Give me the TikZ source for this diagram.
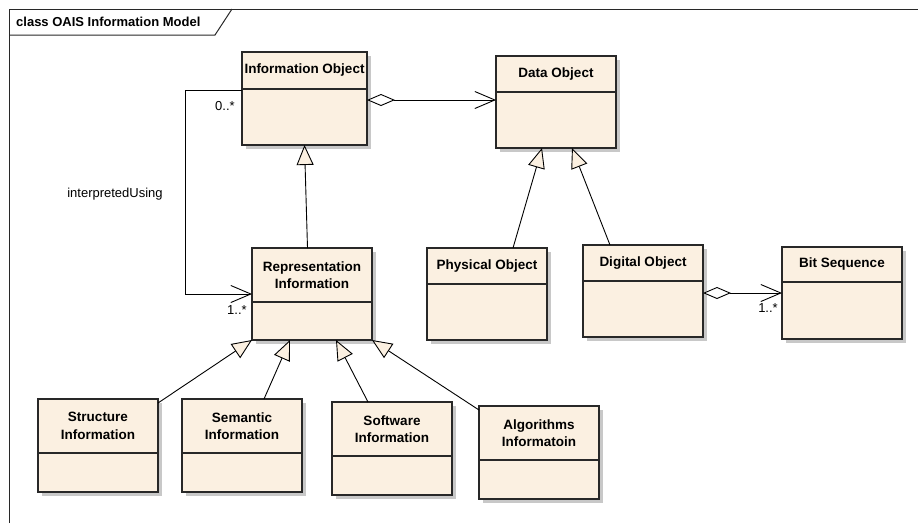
\documentclass[tikz,border=0pt]{standalone}
\usepackage{fontspec}
\setmainfont{Liberation Sans}
\usetikzlibrary{arrows.meta, positioning, calc, shadows}
\definecolor{classfill}{RGB}{251, 240, 225}
\definecolor{shadowgray}{RGB}{200, 200, 200}
\definecolor{edgegray}{RGB}{40, 40, 40}

\begin{document}
\begin{tikzpicture}[x=1pt, y=-1pt,
    head/.style={rectangle, draw=edgegray, fill=classfill, line width=1.1pt, minimum width=120pt, inner sep=0pt, outer sep=0pt, align=center, font=\bfseries\fontsize{13.5}{17.5}\selectfont, drop shadow={shadow xshift=4pt, shadow yshift=-4pt, fill=shadowgray, opacity=1}},
    body/.style={head, minimum height=56pt},
    lbl/.style={font=\fontsize{13}{15}\selectfont, inner sep=0pt},
    gen/.style={line width=0.9pt, -{Triangle[length=20pt, width=17pt, fill=classfill]}},
    assoc/.style={line width=0.9pt, -{Straight Barb[length=20pt, width=17pt]}},
    aggr/.style={line width=0.9pt, {Diamond[length=28pt, width=12pt, fill=white]}-{Straight Barb[length=20pt, width=17pt]}}
]
    \useasboundingbox (0,0) rectangle (918,523);
    % frame
    \draw[edgegray, line width=1pt] (9,523) -- (9,9) -- (918,9);
    \draw[edgegray, line width=1pt] (9,35) -- (215,35) -- (232,9);
    \node[lbl, font=\bfseries\fontsize{13}{15}\selectfont, anchor=west] (title) at (16,22) {class OAIS Information Model};

    % classes
    \node[head, minimum width=125pt, minimum height=37pt] (io) at (304.5,70.5) {Information Object};
    \node[body, minimum width=125pt, below=0pt of io] (iob) {};
    \node[head, minimum height=36pt] (do) at (556,74) {Data Object};
    \node[body, below=0pt of do] (dob) {};
    \node[head, minimum height=54pt] (ri) at (312,275) {Representation\\Information};
    \node[body, minimum height=38pt, below=0pt of ri] (rib) {};
    \node[head, minimum height=36pt] (po) at (487,266) {Physical Object};
    \node[body, below=0pt of po] (pob) {};
    \node[head, minimum height=36pt] (dg) at (643,263) {Digital Object};
    \node[body, below=0pt of dg] (dgb) {};
    \node[head, minimum height=35pt] (bs) at (842,264.5) {Bit Sequence};
    \node[body, minimum height=57pt, below=0pt of bs] (bsb) {};
    \node[head, minimum height=54pt] (st) at (98,426) {Structure\\Information};
    \node[body, minimum height=39pt, below=0pt of st] (stb) {};
    \node[head, minimum height=54pt] (se) at (242,426) {Semantic\\Information};
    \node[body, minimum height=39pt, below=0pt of se] (seb) {};
    \node[head, minimum height=54pt] (sw) at (392,429) {Software\\Information};
    \node[body, minimum height=39pt, below=0pt of sw] (swb) {};
    \node[head, minimum height=54pt] (al) at (539,433) {Algorithms\\Informatoin};
    \node[body, minimum height=39pt, below=0pt of al] (alb) {};

    % connectors
    \draw[assoc] ($(iob.north west)+(0,1)$) -- ++(-57,0) |- ($(ri.south west)+(0,-8)$);
    \draw[aggr] ($(iob.north east)+(0,11)$) -- ($(dob.north west)+(0,8)$);
    \draw[aggr] ($(dgb.north east)+(0,12)$) -- ($(bsb.north west)+(0,11)$);
    \draw[gen] ($(ri.north)+(-4.5,0)$) -- (iob.south);
    \draw[gen] ($(po.north)+(26,0)$) -- ($(dob.south)+(-14,0)$);
    \draw[gen] ($(dg.north)+(-33,0)$) -- ($(dob.south)+(16,0)$);
    \draw[gen] ($(st.north east)+(0,4)$) -- (rib.south west);
    \draw[gen] ($(se.north)+(22,0)$) -- ($(rib.south)+(-22,0)$);
    \draw[gen] ($(sw.north)+(-24,0)$) -- ($(rib.south)+(24,0)$);
    \draw[gen] ($(al.north west)+(0,4)$) -- (rib.south east);

    % labels
    \node[lbl] (mfrom) at (225,106) {0..*};
    \node[lbl] (mto) at (237,310) {1..*};
    \node[lbl] (role) at (115,194) {interpretedUsing};
    \node[lbl] (mbits) at (768,308) {1..*};
\end{tikzpicture}
\end{document}
